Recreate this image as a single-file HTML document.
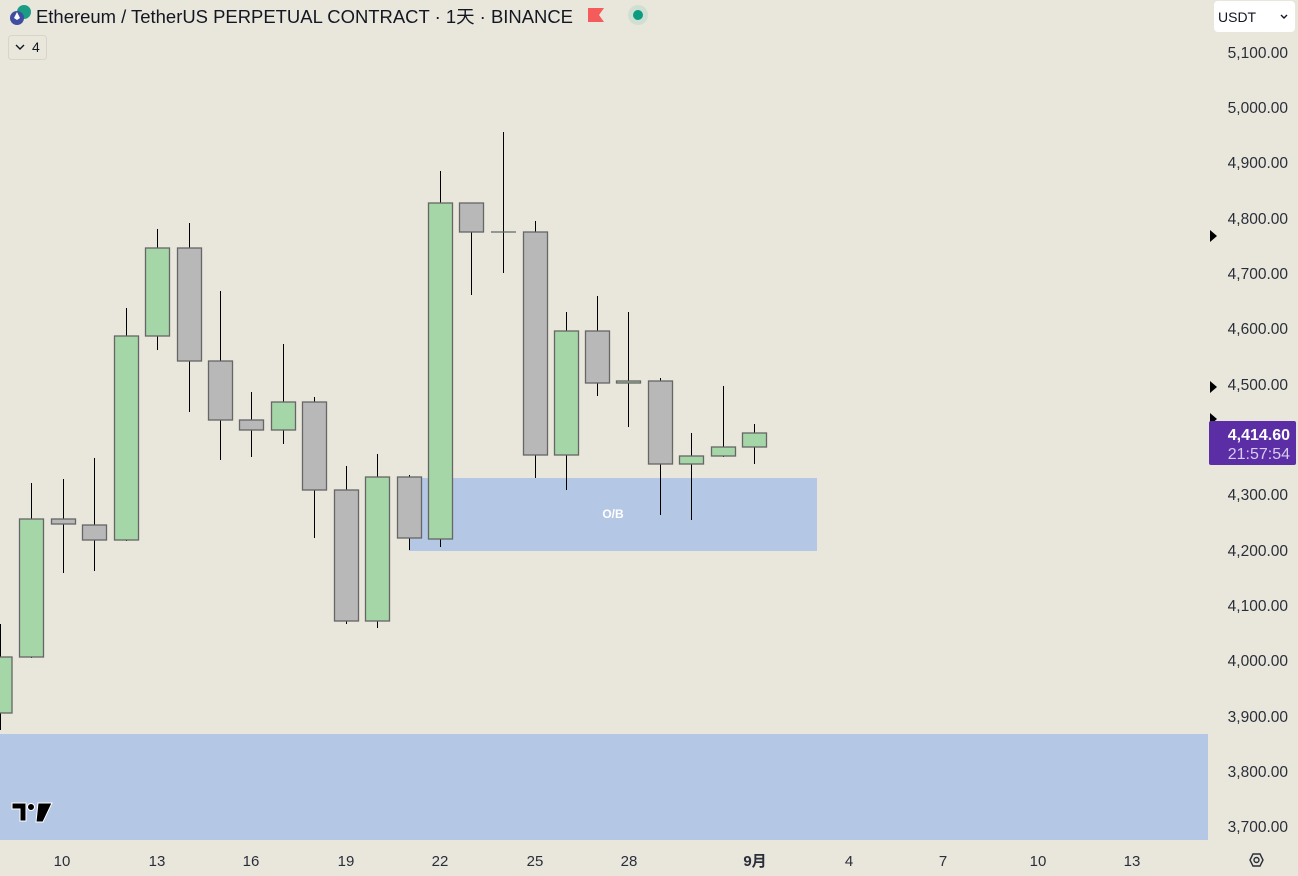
<!DOCTYPE html>
<html><head><meta charset="utf-8"><style>
html,body{margin:0;padding:0;width:1298px;height:876px;overflow:hidden;background:#e9e6dc;font-family:"Liberation Sans","Noto Sans CJK SC",sans-serif}
svg{position:absolute;left:0;top:0}
.t{font-size:18px;fill:#131722}
.p{font-size:15.5px;fill:#2a2e39}
.d{font-size:15px;fill:#2a2e39}
</style></head><body>
<svg width="1298" height="876" xmlns="http://www.w3.org/2000/svg">
<rect width="1298" height="876" fill="#e9e6dc"/>
<rect x="409" y="478" width="408" height="73" fill="#b4c7e4"/>
<text x="613" y="518" font-size="12" font-weight="bold" fill="#fff" text-anchor="middle">O/B</text>
<rect x="0" y="734" width="1208" height="106" fill="#b4c7e4"/>
<g stroke="#000" stroke-width="1">
<line x1="0.5" y1="624" x2="0.5" y2="730"/>
<line x1="31.5" y1="483" x2="31.5" y2="658"/>
<line x1="63.5" y1="479" x2="63.5" y2="573"/>
<line x1="94.5" y1="458" x2="94.5" y2="571"/>
<line x1="126.5" y1="308" x2="126.5" y2="541"/>
<line x1="157.5" y1="229" x2="157.5" y2="350"/>
<line x1="189.5" y1="223" x2="189.5" y2="412"/>
<line x1="220.5" y1="291" x2="220.5" y2="460"/>
<line x1="251.5" y1="392" x2="251.5" y2="457"/>
<line x1="283.5" y1="344" x2="283.5" y2="444"/>
<line x1="314.5" y1="397" x2="314.5" y2="538"/>
<line x1="346.5" y1="466" x2="346.5" y2="624"/>
<line x1="377.5" y1="454" x2="377.5" y2="628"/>
<line x1="409.5" y1="475" x2="409.5" y2="550"/>
<line x1="440.5" y1="171" x2="440.5" y2="547"/>
<line x1="471.5" y1="203" x2="471.5" y2="295"/>
<line x1="503.5" y1="132" x2="503.5" y2="273"/>
<line x1="535.5" y1="221" x2="535.5" y2="478"/>
<line x1="566.5" y1="312" x2="566.5" y2="490"/>
<line x1="597.5" y1="296" x2="597.5" y2="396"/>
<line x1="628.5" y1="312" x2="628.5" y2="427"/>
<line x1="660.5" y1="378" x2="660.5" y2="515"/>
<line x1="691.5" y1="433" x2="691.5" y2="520"/>
<line x1="723.5" y1="386" x2="723.5" y2="457"/>
<line x1="754.5" y1="424" x2="754.5" y2="464"/>
</g>
<g stroke="#666" stroke-width="1.3">
<rect x="-12" y="657" width="24" height="56" fill="#a5d6a7"/>
<rect x="19.5" y="519" width="24" height="138" fill="#a5d6a7"/>
<rect x="51.5" y="519" width="24" height="5" fill="#b8b8b8"/>
<rect x="82.5" y="525" width="24" height="15" fill="#b8b8b8"/>
<rect x="114.5" y="336" width="24" height="204" fill="#a5d6a7"/>
<rect x="145.5" y="248" width="24" height="88" fill="#a5d6a7"/>
<rect x="177.5" y="248" width="24" height="113" fill="#b8b8b8"/>
<rect x="208.5" y="361" width="24" height="59" fill="#b8b8b8"/>
<rect x="239.5" y="420" width="24" height="10" fill="#b8b8b8"/>
<rect x="271.5" y="402" width="24" height="28" fill="#a5d6a7"/>
<rect x="302.5" y="402" width="24" height="88" fill="#b8b8b8"/>
<rect x="334.5" y="490" width="24" height="131" fill="#b8b8b8"/>
<rect x="365.5" y="477" width="24" height="144" fill="#a5d6a7"/>
<rect x="397.5" y="477" width="24" height="61" fill="#b8b8b8"/>
<rect x="428.5" y="203" width="24" height="336" fill="#a5d6a7"/>
<rect x="459.5" y="203" width="24" height="29" fill="#b8b8b8"/>
<line x1="491" y1="232" x2="516" y2="232"/>
<rect x="523.5" y="232" width="24" height="223" fill="#b8b8b8"/>
<rect x="554.5" y="331" width="24" height="124" fill="#a5d6a7"/>
<rect x="585.5" y="331" width="24" height="52" fill="#b8b8b8"/>
<rect x="616.5" y="381" width="24" height="2" fill="#a5d6a7"/>
<rect x="648.5" y="381" width="24" height="83" fill="#b8b8b8"/>
<rect x="679.5" y="456" width="24" height="8" fill="#a5d6a7"/>
<rect x="711.5" y="447" width="24" height="9" fill="#a5d6a7"/>
<rect x="742.5" y="433" width="24" height="14" fill="#a5d6a7"/>
</g>
<g class="p" text-anchor="end">
<text x="1288" y="58">5,100.00</text>
<text x="1288" y="113">5,000.00</text>
<text x="1288" y="168">4,900.00</text>
<text x="1288" y="224">4,800.00</text>
<text x="1288" y="279">4,700.00</text>
<text x="1288" y="334">4,600.00</text>
<text x="1288" y="390">4,500.00</text>
<text x="1288" y="500">4,300.00</text>
<text x="1288" y="556">4,200.00</text>
<text x="1288" y="611">4,100.00</text>
<text x="1288" y="666">4,000.00</text>
<text x="1288" y="722">3,900.00</text>
<text x="1288" y="777">3,800.00</text>
<text x="1288" y="832">3,700.00</text>
</g>
<polygon points="1210,230 1217,236 1210,242" fill="#000"/>
<polygon points="1210,381 1217,387 1210,393" fill="#000"/>
<polygon points="1210,413 1217,419 1210,425" fill="#000"/>
<rect x="1209" y="421" width="87" height="44" rx="2" fill="#5b2ea6"/>
<text x="1290" y="440" font-size="16" font-weight="bold" fill="#fff" text-anchor="end">4,414.60</text>
<text x="1290" y="459" font-size="16" fill="#d8ccf0" text-anchor="end">21:57:54</text>
<rect x="1214" y="1" width="81" height="31" rx="4" fill="#fff"/>
<text x="1218" y="22" font-size="14" fill="#131722">USDT</text>
<path d="M1281 15 l3 3 l3 -3" stroke="#131722" stroke-width="1.4" fill="none"/>
<g class="d" text-anchor="middle">
<text x="62" y="866">10</text>
<text x="157" y="866">13</text>
<text x="251" y="866">16</text>
<text x="346" y="866">19</text>
<text x="440" y="866">22</text>
<text x="535" y="866">25</text>
<text x="629" y="866">28</text>
<text x="755" y="866" font-weight="bold">9月</text>
<text x="849" y="866">4</text>
<text x="943" y="866">7</text>
<text x="1038" y="866">10</text>
<text x="1132" y="866">13</text>
</g>
<polygon points="1250,860 1253,854 1260,854 1263,860 1260,866 1253,866" fill="none" stroke="#2a2e39" stroke-width="1.4"/>
<circle cx="1256.5" cy="860" r="2.5" fill="none" stroke="#2a2e39" stroke-width="1.4"/>
<g fill="#000" stroke="#fff" stroke-width="1">
<path d="M12 803 h14 v18 h-6 v-12 h-8z"/>
<circle cx="31" cy="807" r="3.5"/>
<path d="M38 803 h14 l-9 19 h-7z"/>
</g>
<circle cx="24" cy="12" r="7" fill="#1b9c85"/>
<circle cx="17" cy="18" r="7" fill="#3f4ea0"/>
<path d="M17 12 l-3 6 l3 2 l3 -2z" fill="#fff"/>
<text x="36" y="23" class="t" textLength="537" lengthAdjust="spacingAndGlyphs">Ethereum  / TetherUS PERPETUAL CONTRACT · 1天 · BINANCE</text>
<path d="M588 8 h16 l-5 7 l5 7 h-16z" fill="#f55b5b"/>
<circle cx="638" cy="15" r="10" fill="#cfe0d2"/>
<circle cx="638" cy="15" r="5" fill="#0b9b81"/>
<rect x="8.5" y="35.5" width="38" height="24" rx="3" fill="#e9e6dc" stroke="#d8d4c8"/>
<path d="M16 45 l4 4 l4 -4" stroke="#131722" stroke-width="1.4" fill="none"/>
<text x="32" y="52" font-size="14" fill="#131722">4</text>
</svg>
</body></html>
